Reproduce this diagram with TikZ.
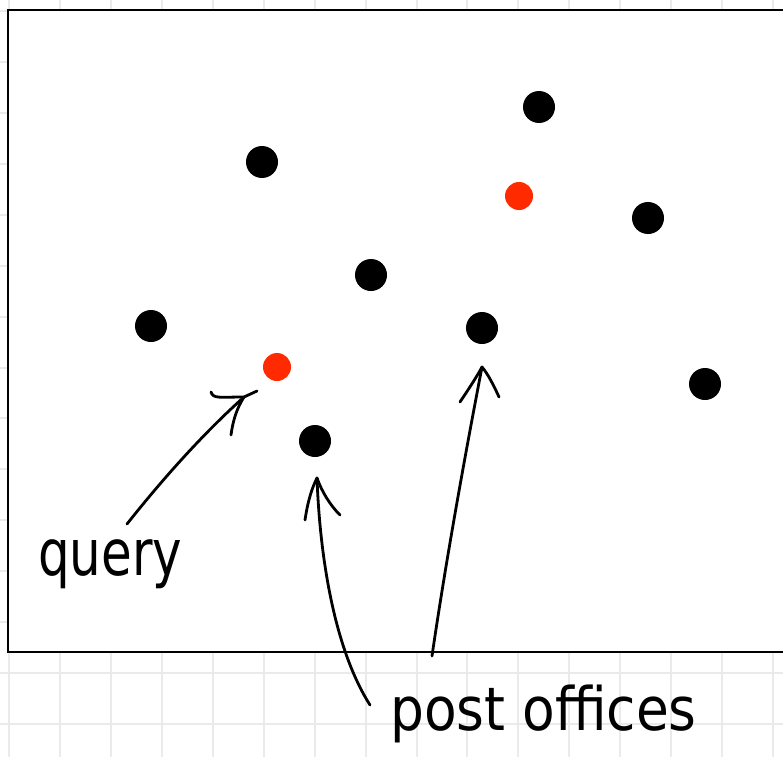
\documentclass[tikz,border=0pt]{standalone}
\usepackage{fontspec}
\setmainfont{DejaVu Sans}
\definecolor{qred}{RGB}{255,42,0}
\definecolor{gridgray}{RGB}{234,234,234}
\begin{document}
\begin{tikzpicture}[x=1pt,y=-1pt,
  gridline/.style={draw=gridgray,line width=2pt},
  frame/.style={draw=black,line width=2.2pt,fill=white},
  office/.style={circle,fill=black,minimum size=32pt,inner sep=0pt},
  querypt/.style={circle,fill=qred,minimum size=28pt,inner sep=0pt},
  hand/.style={line width=2.8pt,line cap=round,line join=round},
  lab/.style={inner sep=0pt,anchor=base west}]
\useasboundingbox (0,0) rectangle (783,757);
\clip (0,0) rectangle (783,757);
\fill[white] (0,0) rectangle (783,757);
% graph paper
\foreach \i in {0,...,15} \draw[gridline] (9.07+50.93*\i,0) -- ++(0,757);
\foreach \j in {0,...,14} \draw[gridline] (0,11+50.93*\j) -- ++(783,0);
% frame
\draw[frame] (8,10) rectangle (800,652);
% points
\node[office] (a) at (262,162) {};
\node[office] (b) at (539,107) {};
\node[office] (c) at (648,218) {};
\node[office] (d) at (371,275) {};
\node[office] (e) at (151,326) {};
\node[office] (f) at (482,328) {};
\node[office] (g) at (705,384) {};
\node[office] (h) at (315,441) {};
\node[querypt] (q1) at (519,196) {};
\node[querypt] (q2) at (277,367) {};
% labels
\node[lab,font=\fontsize{64}{64}\selectfont,xscale=0.78] (querylabel) at (38,575) {query};
\node[lab,font=\fontsize{60}{60}\selectfont,xscale=0.89] (postlabel) at (390,730) {post offices};
% arrow coordinates
\coordinate (qtail) at (127,524);
\coordinate (qtip) at (244,397);
\coordinate (p1tail) at (370,705);
\coordinate (p1tip) at (317,478);
\coordinate (p2tail) at (432,656);
\coordinate (p2tip) at (482,367);
% query arrow
\draw[hand] (qtail) .. controls (165,476) and (205,432) .. (qtip);
\draw[hand] (211,392) .. controls (213,399) and (220,397) .. (qtip) -- (257,391);
\draw[hand] (231,435) .. controls (233,420) and (237,408) .. (qtip);
% post office arrow 1
\draw[hand] (p1tail) .. controls (335,650) and (320,560) .. (p1tip);
\draw[hand] (305,520) .. controls (308,500) and (312,488) .. (p1tip);
\draw[hand] (340,515) .. controls (330,505) and (322,492) .. (p1tip);
% post office arrow 2
\draw[hand] (p2tail) .. controls (446,560) and (466,450) .. (p2tip);
\draw[hand] (460,402) .. controls (468,390) and (476,378) .. (p2tip);
\draw[hand] (499,397) .. controls (494,386) and (488,374) .. (p2tip);
\end{tikzpicture}
\end{document}
